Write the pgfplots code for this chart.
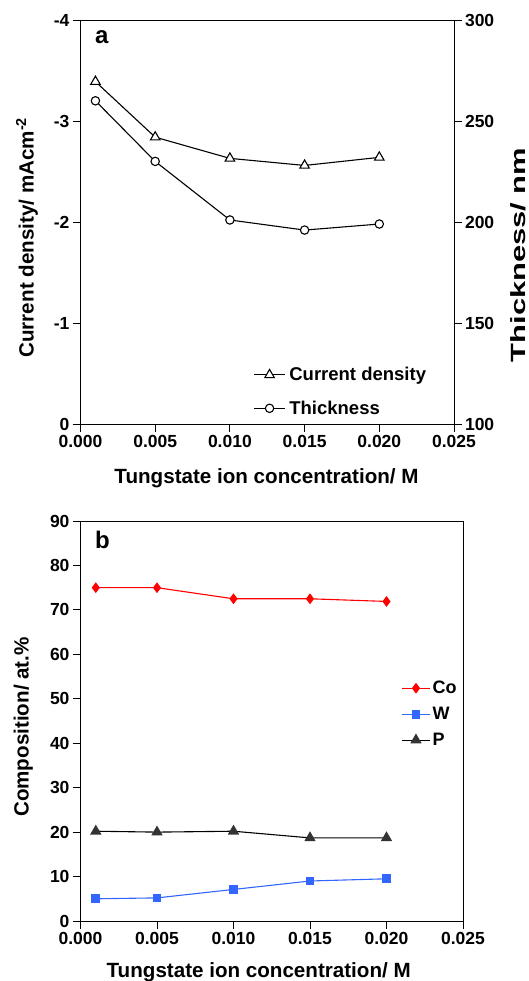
\documentclass[border=0pt]{standalone}
\usepackage{fontspec}
\setmainfont{Liberation Sans}
\usepackage{graphicx}
\usepackage{pgfplots}
\pgfplotsset{compat=1.18}
\definecolor{cored}{RGB}{255,0,0}
\definecolor{wblue}{RGB}{51,102,255}
\definecolor{pgray}{RGB}{51,51,51}
\pgfplotsset{
  common/.style={
    scale only axis,
    xmin=0, xmax=0.025,
    xtick={0,0.005,0.01,0.015,0.02,0.025},
    xticklabels={0.000,0.005,0.010,0.015,0.020,0.025},
    scaled x ticks=false,
    tick align=outside,
    major tick length=7.5bp,
    axis line style={line width=1bp},
    major tick style={line width=1bp,black},
    tick label style={font=\fontsize{17.5bp}{21bp}\selectfont\bfseries},
    /pgf/number format/assume math mode=true,
  },
  myleg/.style={
    legend cell align=left,
    legend style={draw=none,fill=none,inner sep=0pt,
      font=\fontsize{18.5bp}{22bp}\selectfont\bfseries,
      row sep=14.5bp, column sep=1.5bp},
    legend image code/.code={\draw[mark repeat=2,mark phase=2] plot coordinates {(0bp,0bp) (15.75bp,0bp) (31.5bp,0bp)};},
  },
}
\begin{document}
\begin{tikzpicture}
\useasboundingbox (0,0) rectangle (529bp,-981bp);
% ---------- panel a ----------
\begin{axis}[common,
  at={(80.5bp,-20bp)}, anchor=north west,
  width=373.5bp, height=404bp,
  ymin=-4, ymax=0, y dir=reverse,
  ytick={-4,-3,-2,-1,0},
  yticklabels={-4,-3,-2,-1,0},
  xtick pos=bottom, ytick pos=left,
]
\addplot[black, line width=1.1bp, mark=triangle*, mark size=5.5bp, mark options={fill=white,solid}]
  coordinates {(0.001,-3.39) (0.005,-2.84) (0.010,-2.63) (0.015,-2.56) (0.020,-2.64)};
\end{axis}
\begin{axis}[common, myleg,
  at={(80.5bp,-20bp)}, anchor=north west,
  width=373.5bp, height=404bp,
  axis x line=none, axis y line*=right,
  ymin=100, ymax=300,
  ytick={100,150,200,250,300},
  legend style={at={(axis description cs:0.462,0.015)},anchor=south west},
]
\addlegendimage{black, line width=1.1bp, mark=triangle*, mark size=5.5bp, mark options={fill=white,solid}}
\addlegendentry{Current density}
\addplot[black, line width=1.1bp, mark=*, mark size=4.2bp, mark options={fill=white,solid}]
  coordinates {(0.001,260) (0.005,230) (0.010,201) (0.015,196) (0.020,199)};
\addlegendentry{Thickness}
\end{axis}
\node[anchor=base west,font=\fontsize{24bp}{28bp}\selectfont\bfseries] at (91.5bp,-43bp) {a};
\node[rotate=90,anchor=base,font=\fontsize{20.6bp}{24bp}\selectfont\bfseries] at (33.5bp,-237.5bp) {Current density/ mAcm\textsuperscript{-2}};
\node[rotate=90,anchor=base,font=\fontsize{20.6bp}{24bp}\selectfont\bfseries] at (525.5bp,-255bp) {\scalebox{1.5}[1]{Thickness/ nm}};
\node[anchor=base,font=\fontsize{20.6bp}{24bp}\selectfont\bfseries] at (266.5bp,-483bp) {Tungstate ion concentration/ M};
% ---------- panel b ----------
\begin{axis}[common,
  at={(80.5bp,-521bp)}, anchor=north west,
  width=382.5bp, height=400bp,
  ymin=0, ymax=90,
  ytick={0,10,20,30,40,50,60,70,80,90},
  xtick pos=bottom, ytick pos=left,
  legend cell align=left,
  legend style={draw=none,fill=none,inner sep=0pt,
    font=\fontsize{18bp}{22bp}\selectfont\bfseries,
    row sep=8bp,
    at={(axis description cs:0.838,0.605)},anchor=north west},
  legend image code/.code={\draw[mark repeat=2,mark phase=2] plot coordinates {(0bp,0bp) (14.2bp,0bp) (28.4bp,0bp)};},
]
\addplot[cored, line width=1.1bp, mark=diamond*, mark size=4.5bp, mark options={fill=cored,draw=cored,solid}]
  coordinates {(0.001,75.0) (0.005,75.0) (0.010,72.5) (0.015,72.5) (0.020,71.9)};
\addlegendentry{Co}
\addplot[wblue, line width=1.1bp, mark=square*, mark size=3.8bp, mark options={fill=wblue,draw=wblue,solid}]
  coordinates {(0.001,5.0) (0.005,5.2) (0.010,7.1) (0.015,9.0) (0.020,9.5)};
\addlegendentry{W}
\addplot[black, line width=1.1bp, mark=triangle*, mark size=5.5bp, mark options={fill=pgray,draw=pgray,solid}]
  coordinates {(0.001,20.2) (0.005,20.0) (0.010,20.2) (0.015,18.7) (0.020,18.7)};
\addlegendentry{P}
\end{axis}
\node[anchor=base west,font=\fontsize{24bp}{28bp}\selectfont\bfseries] at (91.5bp,-548bp) {b};
\node[rotate=90,anchor=base,font=\fontsize{20.6bp}{24bp}\selectfont\bfseries] at (28.5bp,-727bp) {Composition/ at.\%};
\node[anchor=base,font=\fontsize{20.6bp}{24bp}\selectfont\bfseries] at (258.7bp,-977bp) {Tungstate ion concentration/ M};
\end{tikzpicture}
\end{document}
